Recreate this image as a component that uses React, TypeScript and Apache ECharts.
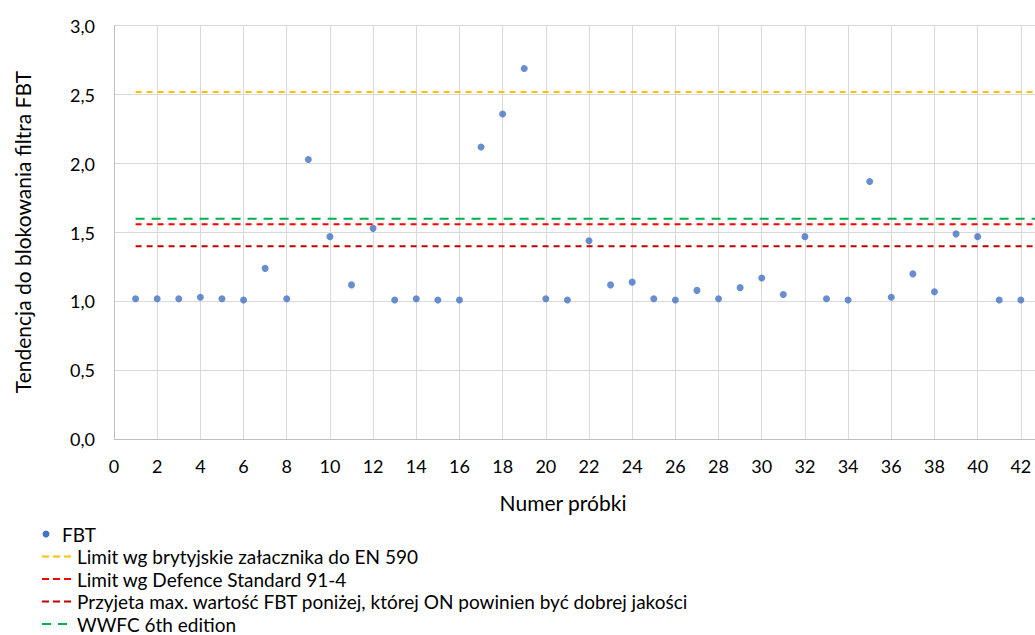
import React, { useEffect, useRef } from "react";
import * as echarts from "echarts";

const sampleNumbers = [1,2,3,4,5,6,7,8,9,10,11,12,13,14,15,16,17,18,19,20,21,22,23,24,25,26,27,28,29,30,31,32,33,34,35,36,37,38,39,40,41,42];
const fbtValues = [1.02,1.02,1.02,1.03,1.02,1.01,1.24,1.02,2.03,1.47,1.12,1.53,1.01,1.02,1.01,1.01,2.12,2.36,2.69,1.02,1.01,1.44,1.12,1.14,1.02,1.01,1.08,1.02,1.10,1.17,1.05,1.47,1.02,1.01,1.87,1.03,1.20,1.07,1.49,1.47,1.01,1.01];

const limitNames = [
  "Limit wg brytyjskie załacznika do EN 590",
  "Limit wg Defence Standard 91-4",
  "Przyjeta max. wartość FBT poniżej, której ON powinien być dobrej jakości",
  "WWFC 6th edition",
];
const limitValues = [2.52, 1.56, 1.4, 1.6];
const limitColors = ["#ffc000", "#ff0000", "#c00000", "#00b050"];
const limitDash = [[6, 5], [6, 5], [6, 5], [9, 7]];
const limitLegendDash = [[7, 4], [7, 4], [7, 4], [9, 7]];
const limitRange = [1, 44];

const xTickMin = 0;
const xTickMax = 44;
const xTickStep = 2;
const yTickMin = 0;
const yTickMax = 3;
const yTickStep = 0.5;

const FONT = "Lato, 'Open Sans', sans-serif";

export default function App() {
  const ref = useRef<HTMLDivElement>(null);
  useEffect(() => {
    if (!ref.current) return;
    const chart = echarts.init(ref.current, undefined, { renderer: "svg" });
    const series: any[] = [
      {
        name: "FBT",
        type: "scatter",
        data: sampleNumbers.map((x, i) => [x, fbtValues[i]]),
        symbol: "circle",
        symbolSize: 7,
        itemStyle: { color: "#4472c4" },
        z: 5,
      },
    ];
    limitNames.forEach((n, i) => {
      series.push({
        name: n,
        type: "line",
        data: limitRange.map((x) => [x, limitValues[i]]),
        symbol: "none",
        lineStyle: { color: limitColors[i], width: 2, type: limitDash[i] },
        z: 3,
      });
    });

    const legendTop = 534;
    const rowH = 22.5;
    const graphic: any[] = [
      { type: "circle", shape: { cx: 46, cy: legendTop, r: 3.5 }, style: { fill: "#4472c4" } },
      { type: "text", x: 62, y: legendTop, style: { text: "FBT", font: `19px ${FONT}`, fill: "#000", verticalAlign: "middle" } },
    ];
    limitNames.forEach((n, i) => {
      const y = legendTop + rowH * (i + 1);
      graphic.push({
        type: "line",
        shape: { x1: 42, y1: y, x2: i === 3 ? 72 : 75, y2: y },
        style: { stroke: limitColors[i], lineWidth: 2, lineDash: limitLegendDash[i] },
      });
      graphic.push({
        type: "text",
        x: 77,
        y,
        style: { text: n, font: `19px ${FONT}`, fill: "#000", verticalAlign: "middle" },
      });
    });
    graphic.push({
      type: "text",
      x: 563,
      y: 502,
      style: { text: "Numer próbki", font: `21px ${FONT}`, fill: "#000", align: "center", verticalAlign: "middle" },
    });
    graphic.push({
      type: "text",
      x: 22,
      y: 232,
      rotation: Math.PI / 2,
      style: { text: "Tendencja do blokowania filtra FBT", font: `21px ${FONT}`, fill: "#000", align: "center", verticalAlign: "middle" },
    });

    chart.setOption({
      animation: false,
      backgroundColor: "#fff",
      grid: { left: 114, top: 25.7, width: 950, height: 413.6 },
      xAxis: {
        type: "value",
        min: xTickMin,
        max: xTickMax,
        interval: xTickStep,
        axisLine: { show: true, lineStyle: { color: "#bfbfbf", width: 1 } },
        axisTick: { show: false },
        axisLabel: { color: "#000", fontSize: 18, fontFamily: FONT, margin: 18, showMaxLabel: false },
        splitLine: { show: true, lineStyle: { color: "#d9d9d9", width: 1 } },
      },
      yAxis: {
        type: "value",
        min: yTickMin,
        max: yTickMax,
        interval: yTickStep,
        axisLine: { show: true, lineStyle: { color: "#bfbfbf", width: 1 } },
        axisTick: { show: false },
        axisLabel: {
          color: "#000",
          fontSize: 18,
          fontFamily: FONT,
          margin: 19,
          formatter: (v: number) => v.toFixed(1).replace(".", ","),
        },
        splitLine: { show: true, lineStyle: { color: "#d9d9d9", width: 1 } },
      },
      series,
      graphic,
    });
    return () => chart.dispose();
  }, []);
  return (
    <div style={{ position: "absolute", left: 0, top: 0, width: 1035, height: 635, overflow: "hidden", background: "#fff" }}>
      <div ref={ref} style={{ width: 1080, height: 635 }} />
    </div>
  );
}
